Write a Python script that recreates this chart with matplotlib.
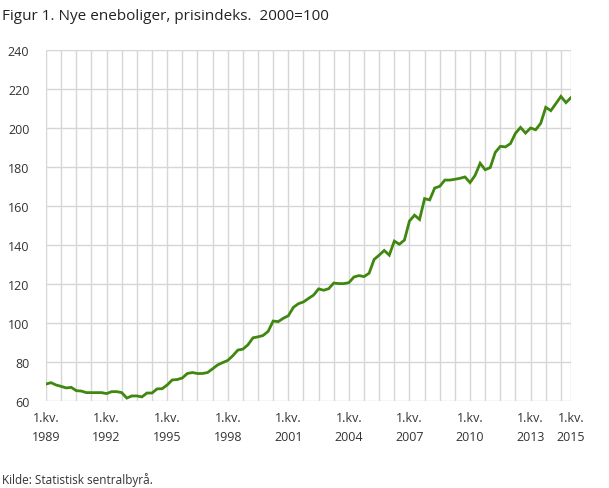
import numpy as np
import matplotlib.pyplot as plt

plt.rcParams['font.family'] = ['Open Sans', 'DejaVu Sans']

# prisindeks, kvartalsvis 1989K1 - 2015K1 (2000=100)
index = [
    68.7, 69.4, 68.2, 67.5, 66.7, 67.0, 65.3, 65.1, 64.3, 64.3,
    64.3, 64.3, 63.8, 64.8, 64.8, 64.3, 61.5, 62.6, 62.6, 62.1,
    64.1, 64.1, 66.2, 66.3, 68.2, 70.8, 71.0, 71.8, 74.1, 74.6,
    74.1, 74.1, 74.6, 76.5, 78.5, 79.7, 80.8, 83.2, 86.1, 86.6,
    88.8, 92.4, 92.9, 93.6, 95.7, 101.0, 100.7, 102.4, 103.7, 108.0,
    109.9, 110.8, 112.6, 114.3, 117.5, 116.8, 117.6, 120.5, 120.2, 120.2,
    120.7, 123.6, 124.3, 123.8, 125.5, 132.6, 134.8, 137.2, 134.8, 142.0,
    140.4, 142.5, 152.3, 155.3, 153.1, 163.8, 163.1, 169.2, 170.1, 173.3,
    173.3, 173.7, 174.2, 174.9, 172.0, 175.7, 181.9, 178.6, 179.7, 187.5,
    190.6, 190.3, 192.0, 197.3, 200.3, 197.4, 200.0, 199.1, 202.4, 210.6,
    208.9, 212.5, 216.2, 213.0, 215.6,
]
quarters = np.arange(len(index))

label_pos = [0, 12, 24, 36, 48, 60, 72, 84, 96, 104]
label_years = ['1989', '1992', '1995', '1998', '2001', '2004', '2007', '2010', '2013', '2015']
y_ticks = [60, 80, 100, 120, 140, 160, 180, 200, 220, 240]

txt = '#333333'
grid_col = '#d6d6d6'

fig = plt.figure(figsize=(6.09, 4.89), dpi=100)
ax = fig.add_axes([46/609, 1-402/489, 525/609, 351/489])

ax.plot(quarters, index, color='#3f870f', lw=2.0, solid_joinstyle='miter', zorder=3)

ax.set_xlim(0, 104)
ax.set_ylim(60, 240)
ax.set_yticks(y_ticks)
ax.set_xticks(label_pos)
ax.set_xticklabels(['1.kv.\n' + y for y in label_years], linespacing=1.6)
ax.set_xticks(list(range(0, 105, 3)), minor=True)

ax.grid(True, which='both', axis='x', color=grid_col, lw=1)
ax.grid(True, which='major', axis='y', color=grid_col, lw=1)
ax.set_axisbelow(True)
for s in ax.spines.values():
    s.set_visible(False)
ax.tick_params(which='both', length=0)
ax.tick_params(axis='y', pad=12, labelsize=9, labelcolor=txt)
ax.tick_params(axis='x', pad=7, labelsize=9, labelcolor=txt)

fig.text(2/609, 1-17/489, 'Figur 1. Nye eneboliger, prisindeks.  2000=100',
         fontsize=11, color='#222222', va='center', ha='left')
fig.text(2/609, 1-480/489, 'Kilde: Statistisk sentralbyrå.',
         fontsize=8.5, color=txt, va='center', ha='left')

fig.savefig('out.png', dpi=100)
